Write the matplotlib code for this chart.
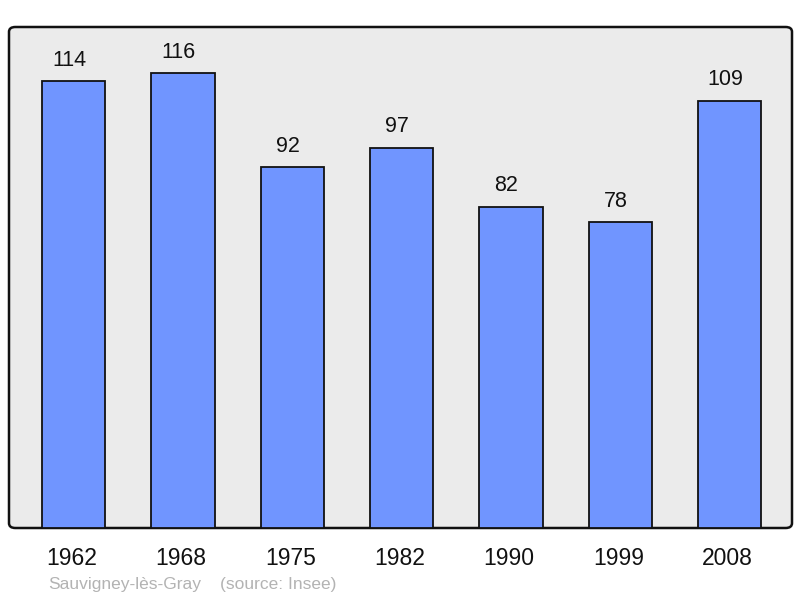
import matplotlib.pyplot as plt
from matplotlib.patches import FancyBboxPatch
from matplotlib.transforms import ScaledTranslation

years = ["1962", "1968", "1975", "1982", "1990", "1999", "2008"]
population = [114, 116, 92, 97, 82, 78, 109]
commune = "Sauvigney-lès-Gray"
source = "(source: Insee)"

plt.rcParams['font.family'] = ['Liberation Sans', 'DejaVu Sans']

fig = plt.figure(figsize=(8, 5.98), dpi=100)
left, bottom, right, top = 9 / 800, 1 - 528 / 598, 792 / 800, 1 - 27 / 598

# rounded background frame
frame = FancyBboxPatch((left, bottom), right - left, top - bottom,
                       boxstyle="round,pad=0,rounding_size=0.008",
                       transform=fig.transFigure, facecolor="#ebebeb",
                       edgecolor="#111111", linewidth=1.8, zorder=-1)
fig.patches.append(frame)

ax = fig.add_axes([left, bottom, right - left, top - bottom])
ax.patch.set_alpha(0)
for s in ax.spines.values():
    s.set_visible(False)

x = list(range(len(years)))
bars = ax.bar(x, population, width=0.58, color="#7095ff",
              edgecolor="#111111", linewidth=1.3, zorder=2)
for xi, v in zip(x, population):
    ax.annotate(str(v), (xi, v), xytext=(-3.3, 11), textcoords="offset points",
                ha="center", va="baseline", fontsize=15.5, color="#111111")

ax.set_xlim(-0.59, 6.57)
ax.set_ylim(0, 127.8)
ax.set_xticks(x)
ax.set_xticklabels(years, fontsize=16.5, color="#111111")
ax.tick_params(axis="x", length=0, pad=14)
for lab in ax.get_xticklabels():
    lab.set_transform(lab.get_transform() + ScaledTranslation(-0.02, 0, fig.dpi_scale_trans))
ax.set_yticks([])

fig.text(48 / 800, 1 - 584 / 598, commune, fontsize=12.5, color="#b3b3b3",
         ha="left", va="center")
fig.text(220 / 800, 1 - 584 / 598, source, fontsize=12.5, color="#b3b3b3",
         ha="left", va="center")

fig.savefig("out.png", dpi=100)
